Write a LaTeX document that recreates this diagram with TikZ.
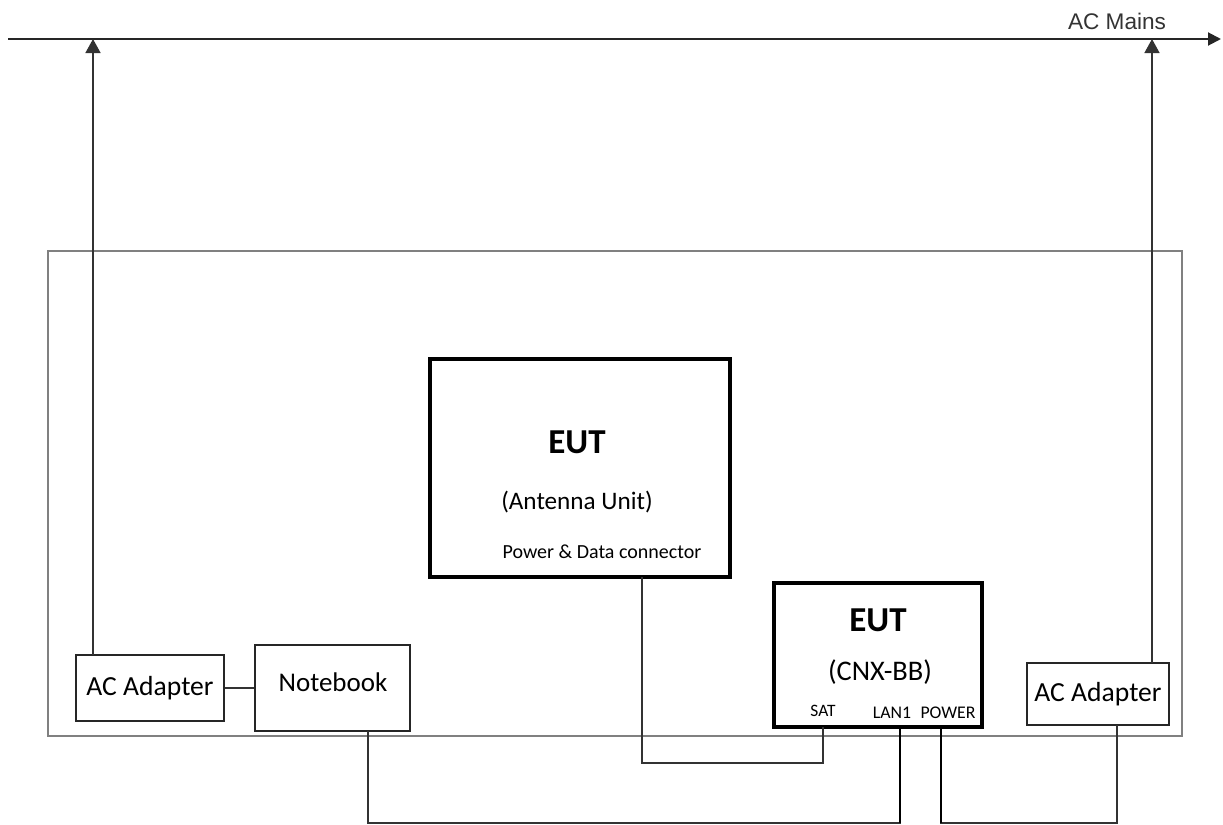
\documentclass[tikz,border=0pt]{standalone}
\usepackage{fontspec}
\setmainfont{Carlito}
\newfontfamily\arialfont{Liberation Sans}
\usetikzlibrary{arrows.meta}

\tikzset{
  unit/.style={draw=black!85, line width=0.75pt, inner sep=0pt},
  eut/.style={draw=black, line width=1.6pt, inner sep=0pt},
  wire/.style={draw=black!80, line width=0.75pt},
  feed/.style={wire, -{Triangle[width=7.5pt,length=7pt]}},
}

\begin{document}
\begin{tikzpicture}[x=0.5pt,y=-0.5pt]
\useasboundingbox (0,0) rectangle (1223,825);

% AC mains bus
\coordinate (mainsL) at (8,39);
\coordinate (mainsR) at (1221,39);
\draw[line width=1pt, draw=black!85, -{Triangle[width=6.5pt,length=6.5pt]}] (mainsL) -- (mainsR);
\node[font=\arialfont\fontsize{11.3}{13}\selectfont, text=black!80] (mainslbl) at (1117,21) {AC Mains};

% Test table outline
\draw[draw=black!50, line width=1pt] (48,251) rectangle (1182,736);

% Support units
\node[unit, minimum width=74pt, minimum height=33pt, font=\fontsize{13.8}{16}\selectfont] (adl) at (150,688) {AC Adapter};
\node[unit, minimum width=77.5pt, minimum height=43pt] (nb) at (332.5,688) {};
\node[font=\fontsize{13.5}{16}\selectfont] (nblbl) at (333,682) {Notebook};
\node[unit, minimum width=71pt, minimum height=31pt, font=\fontsize{13.8}{16}\selectfont] (adr) at (1098,694) {AC Adapter};

% EUT: antenna unit
\node[eut, minimum width=150pt, minimum height=109pt] (ant) at (580,468) {};
\node[font=\bfseries\fontsize{17.5}{20}\selectfont] (antname) at (577,442) {EUT};
\node[font=\fontsize{12.6}{15}\selectfont] (anttype) at (577,502) {(Antenna Unit)};
\node[font=\fontsize{10}{12}\selectfont] (antport) at (602,552) {Power \& Data connector};

% EUT: CNX-BB
\node[eut, minimum width=104pt, minimum height=72pt] (cnx) at (878,655) {};
\node[font=\bfseries\fontsize{17.5}{20}\selectfont] (cnxname) at (878,620) {EUT};
\node[font=\fontsize{14.2}{17}\selectfont] (cnxtype) at (880,672) {(CNX-BB)};
\node[font=\fontsize{8.7}{10}\selectfont] (satlbl) at (823,711) {SAT};
\node[font=\fontsize{8.9}{10}\selectfont] (lanlbl) at (892,713) {LAN1};
\node[font=\fontsize{8.9}{10}\selectfont] (pwrlbl) at (948,713) {POWER};

% Ports
\coordinate (adlup) at (93,655);
\coordinate (adrup) at (1152,663);
\coordinate (pdc) at (642,577);
\coordinate (nbport) at (368,731);
\coordinate (adrport) at (1117,725);
\coordinate (sat) at (823,727);
\coordinate (lan) at (900,727);
\coordinate (pwr) at (941,727);

% Mains feeds
\draw[feed] (adlup) -- (adlup |- mainsL);
\draw[feed] (adrup) -- (adrup |- mainsL);

% Cables
\draw[wire] (adl.east) -- (nb.west);
\draw[wire] (pdc) -- ++(0,186) -| (sat);
\draw[wire] (nbport) -- ++(0,92) -| (lan);
\draw[wire] (pwr) -- ++(0,96) -| (adrport);
\draw[line width=1pt, draw=black] (lan) -- ++(0,96);
\draw[line width=1pt, draw=black] (pwr) -- ++(0,96);

\end{tikzpicture}
\end{document}
